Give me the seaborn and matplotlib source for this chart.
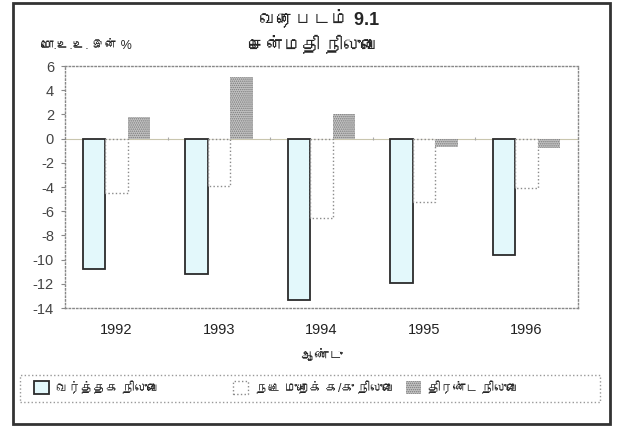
import numpy as np
import pandas as pd
import seaborn as sns
import matplotlib.pyplot as plt
from matplotlib import font_manager, ft2font
from matplotlib.patches import Rectangle

# --- Data (% of GDP) ---
years = ["1992", "1993", "1994", "1995", "1996"]
trade_balance = [-10.8, -11.2, -13.3, -11.9, -9.6]
current_balance = [-4.5, -3.9, -6.6, -5.2, -4.1]
overall_balance = [1.8, 5.1, 2.0, -0.7, -0.8]
series_names = ["வர்த்தக நிலுவை", "நடை முறைக் க/கு நிலுவை", "திரண்ட நிலுவை"]
y_ticks = list(range(-14, 7, 2))

df = pd.DataFrame({
    "year": years * 3,
    "value": trade_balance + current_balance + overall_balance,
    "series": np.repeat(series_names, len(years)),
})

sns.set_theme(style="white")

# pick any installed font that has Tamil glyphs (used as fallback after Liberation Sans)
tamil_font = None
for f in font_manager.fontManager.ttflist:
    try:
        if 0x0BA4 in ft2font.FT2Font(f.fname).get_charmap():
            tamil_font = f.name
            break
    except Exception:
        pass
families = ["Liberation Sans"] + ([tamil_font] if tamil_font else []) + ["DejaVu Sans"]
plt.rcParams["font.family"] = families
plt.rcParams["hatch.linewidth"] = 0.7

fig = plt.figure(figsize=(6.2, 4.29), dpi=100)
ax = fig.add_axes([0.105, 0.282, 0.827, 0.564])

sns.barplot(data=df, x="year", y="value", hue="series", width=0.66,
            ax=ax, legend=False, saturation=1)

# --- Styles per series ---
styles = [
    dict(facecolor="#e3f8fb", edgecolor="#2b2b2b", linewidth=1.3, linestyle="-", hatch=None),
    dict(facecolor="white", edgecolor="#8a8a8a", linewidth=1.0, linestyle=":", hatch=None),
    dict(facecolor="#c4c4c4", edgecolor="#7a7a7a", linewidth=0, linestyle="-", hatch="........"),
]
for cont, st in zip(ax.containers, styles):
    for bar in cont:
        bar.set_facecolor(st["facecolor"])
        bar.set_edgecolor(st["edgecolor"])
        bar.set_linewidth(st["linewidth"])
        bar.set_linestyle(st["linestyle"])
        if st["hatch"]:
            bar.set_hatch(st["hatch"])

ax.axhline(0, color="#c9c6ae", linewidth=0.8, zorder=0.5)
ax.vlines(np.arange(0.5, len(years) - 0.5), -0.15, 0.15, color="#aaaaaa", linewidth=0.8)

ax.set_xlim(-0.5, len(years) - 0.5)
ax.set_ylim(-14, 6)
ax.set_yticks(y_ticks)
ax.set_yticklabels([str(v) for v in y_ticks], fontsize=10.5, color="#444444")
ax.tick_params(axis="y", left=True, length=3, width=0.8, color="#888888", pad=5)
ax.tick_params(axis="x", bottom=False, labelsize=10.5, labelcolor="#222222", pad=5)
for sp in ax.spines.values():
    sp.set_linestyle(":")
    sp.set_color("#888888")
    sp.set_linewidth(1.0)

ax.set_xlabel("ஆண்டு", fontsize=10, labelpad=8)
ax.set_ylabel("")

# --- Titles ---
fig.text(0.515, 0.957, "வரைபடம் 9.1", ha="center", va="center", fontsize=13, fontweight="bold")
fig.text(0.505, 0.893, "சென்மதி நிலுவை", ha="center", va="center", fontsize=13, fontweight="bold")
fig.text(0.066, 0.893, "மொ.உ.உ. இன் %", ha="left", va="center", fontsize=9)

# --- Legend (two pieces inside one dotted box, like the original spacing) ---
leg_kw = dict(fontsize=9, frameon=False, handlelength=1.2, handleheight=1.2,
              handletextpad=0.6, borderpad=0.2)
fig.legend(ax.containers[:1], series_names[:1], loc="center left",
           bbox_to_anchor=(0.04, 0.095), **leg_kw)
fig.legend(ax.containers[1:], series_names[1:], loc="center left", ncol=2,
           columnspacing=0.9, bbox_to_anchor=(0.362, 0.095), **leg_kw)
fig.patches.append(Rectangle((0.032, 0.063), 0.936, 0.063, transform=fig.transFigure,
                             fill=False, edgecolor="#999999", linewidth=1.0, linestyle=":"))

# --- Outer frame ---
fig.patches.append(Rectangle((0.021, 0.012), 0.963, 0.981, transform=fig.transFigure,
                             fill=False, edgecolor="#333333", linewidth=2.0))

fig.savefig("out.png", dpi=100)
